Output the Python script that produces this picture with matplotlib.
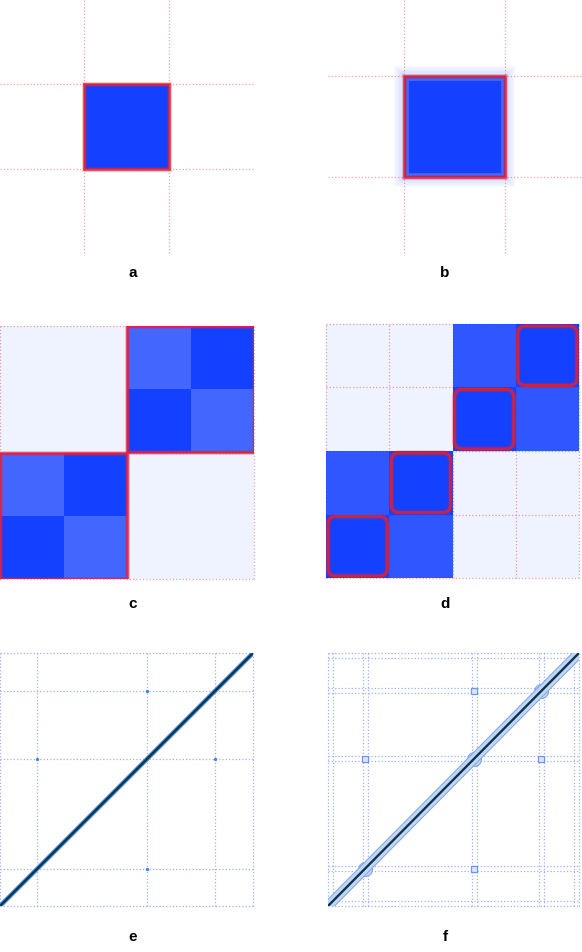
import matplotlib
matplotlib.use('Agg')

import numpy as np
import matplotlib.pyplot as plt
from matplotlib.colors import LinearSegmentedColormap
from matplotlib.patches import Rectangle, FancyBboxPatch

# a, b: a single dense block (b is the smoothed version)
a_edges = [0, 1/3, 2/3, 1]
b_edges = [0, 0.30, 0.70, 1]
ab_dens = [[0, 0, 0],
           [0, 1, 0],
           [0, 0, 0]]
a_grid = [1/3, 2/3]
b_grid = [0.30, 0.70]

# c, d: two groups, each made of two sub-blocks
cd_edges = [0, 0.25, 0.5, 0.75, 1]
c_dens = [[1.00, 0.80, 0.07, 0.07],
          [0.80, 1.00, 0.07, 0.07],
          [0.07, 0.07, 1.00, 0.80],
          [0.07, 0.07, 0.80, 1.00]]
d_dens = [[1.00, 0.88, 0.07, 0.07],
          [0.88, 1.00, 0.07, 0.07],
          [0.07, 0.07, 1.00, 0.88],
          [0.07, 0.07, 0.88, 1.00]]
c_groups = [(0, 0.5), (0.5, 1)]
d_groups = [(0, 0.25), (0.25, 0.5), (0.5, 0.75), (0.75, 1)]
c_grid = [0, 0.5, 1]
d_grid = [0, 0.25, 0.5, 0.75, 1]

# e, f: sparse matrix, diagonal plus a few links
span = [0, 1]
nodes = [0.148, 0.582, 0.850]
links = [(0, 1), (1, 2)]
f_width = 0.01

BLUE = (0.078, 0.25, 1.0)
RED = '#E6213B'
PINK = '#F4A2AD'
LBLUE = '#9DB2F7'
cmap = LinearSegmentedColormap.from_list('dens', [BLUE + (0,), BLUE + (1,)])

W, H = 582, 952
fig = plt.figure(figsize=(W / 100, H / 100), dpi=100)


def add_ax(x0, y0, x1, y1):
    ax = fig.add_axes([x0 / W, 1 - y1 / H, (x1 - x0) / W, (y1 - y0) / H])
    ax.set_xlim(0, 1)
    ax.set_ylim(0, 1)
    ax.axis('off')
    return ax


def grid(ax, pos, color):
    for p in pos:
        ax.axvline(p, color=color, ls=':', lw=0.9, zorder=1, clip_on=False)
        ax.axhline(p, color=color, ls=':', lw=0.9, zorder=1, clip_on=False)


def outline(ax, lo, hi, rounded=False, color=RED):
    w = hi - lo
    for lw, al in [(3.4, 0.28), (1.8, 0.9)]:
        if rounded:
            p = FancyBboxPatch((lo + 0.008, lo + 0.008), w - 0.016, w - 0.016,
                               boxstyle='round,pad=0,rounding_size=0.03',
                               fill=False, ec=color, lw=lw + 0.4, alpha=al, zorder=4)
        else:
            p = Rectangle((lo, lo), w, w, fill=False, ec=color, lw=lw,
                          alpha=al, zorder=4)
        ax.add_patch(p)


# a
ax = add_ax(0, 0, 253, 253)
grid(ax, a_grid, PINK)
ax.pcolormesh(a_edges, a_edges, ab_dens, cmap=cmap, vmin=0, vmax=1, zorder=2)
outline(ax, a_edges[1], a_edges[2])

# b
ax = add_ax(328, 0, 581, 253)
grid(ax, b_grid, PINK)
lo, hi = b_edges[1], b_edges[2]
for s in np.linspace(0.004, 0.04, 8):
    ax.add_patch(Rectangle((lo - s, lo - s), hi - lo + 2 * s, hi - lo + 2 * s,
                           fc=BLUE, ec='none', alpha=0.022, zorder=1.5))
ax.pcolormesh(b_edges, b_edges, ab_dens, cmap=cmap, vmin=0, vmax=1, zorder=2)
ax.add_patch(Rectangle((lo + 0.011, lo + 0.011), hi - lo - 0.022, hi - lo - 0.022,
                       fill=False, ec='#7D95F7', lw=2.0, alpha=0.45, zorder=3))
outline(ax, lo, hi)

# c
ax = add_ax(0, 326, 254, 579)
grid(ax, c_grid, PINK)
ax.pcolormesh(cd_edges, cd_edges, c_dens, cmap=cmap, vmin=0, vmax=1, zorder=2)
for lo, hi in c_groups:
    outline(ax, lo, hi)

# d
ax = add_ax(326, 324, 579, 578)
grid(ax, d_grid, PINK)
ax.pcolormesh(cd_edges, cd_edges, d_dens, cmap=cmap, vmin=0, vmax=1, zorder=2)
for lo, hi in d_groups:
    outline(ax, lo, hi, rounded=True, color='#D4203F')

# e
ax = add_ax(0, 653, 253, 906)
grid(ax, [span[0]] + nodes + [span[1]], LBLUE)
ax.plot(span, span, color='#3D86E6', lw=3.2, solid_capstyle='round', zorder=3)
ax.plot(span, span, color='#0C3548', lw=1.6, zorder=4)
for i, j in links:
    ax.plot([nodes[i], nodes[j]], [nodes[j], nodes[i]], 'o', ms=2.4,
            color='#3D86E6', mec='none', zorder=4, ls='none')

# f
ax = add_ax(328, 653, 579, 906)
fpos = [span[0], span[0] + 2 * f_width, span[1] - 2 * f_width, span[1]]
for n in nodes:
    fpos += [n - f_width, n + f_width]
grid(ax, fpos, LBLUE)
ax.plot(nodes, nodes, 'o', ms=10, mfc='#C3D6FA', mec='#7FA6F2', mew=0.8, zorder=2)
ax.plot(span, span, color='#7FA6F2', lw=7.5, solid_capstyle='butt', zorder=2.5)
ax.plot(span, span, color='#C3D6FA', lw=6.0, solid_capstyle='butt', zorder=3)
ax.plot(span, span, color='#0C3548', lw=1.7, zorder=4)
for i, j in links:
    ax.plot([nodes[i], nodes[j]], [nodes[j], nodes[i]], 's', ms=4.5,
            mfc='#DDE7FC', mec='#6C98F0', mew=0.9, zorder=4, ls='none')

# panel letters
for lab, x, y in [('a', 133, 273), ('b', 445, 273), ('c', 133, 604),
                  ('d', 445, 604), ('e', 133, 937), ('f', 445, 937)]:
    fig.text(x / W, 1 - y / H, lab, ha='center', va='center',
             fontsize=11, fontweight='bold', family='Liberation Sans')

fig.savefig('out.png', dpi=100)
plt.close(fig)
